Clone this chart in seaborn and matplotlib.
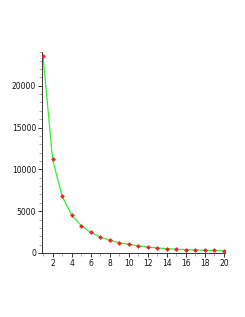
import numpy as np
import pandas as pd
import seaborn as sns
import matplotlib
matplotlib.use("Agg")
from matplotlib import pyplot as plt
from matplotlib.ticker import MultipleLocator

# values
x_values = list(range(1, 21))
y_values = [23500, 11200, 6790, 4550, 3270, 2470, 1920, 1520, 1240, 1040,
            840, 720, 600, 520, 440, 400, 360, 320, 300, 260]

df = pd.DataFrame({"x": x_values, "y": y_values})

sns.set_style("white")
plt.rcParams["font.family"] = ["DejaVu Sans"]

fig = plt.figure(figsize=(2.45, 3.17), dpi=100)
ax = fig.add_axes([0.170, 0.202, 0.748, 0.633])

# green line through the points, red point markers on top
sns.lineplot(data=df, x="x", y="y", ax=ax, color="#33ee33", linewidth=0.9)
sns.scatterplot(data=df, x="x", y="y", ax=ax, color="#ee2222", marker="D",
                s=6, linewidth=0, zorder=3)

ax.set_xlim(0.85, 20.1)
ax.set_ylim(0, 24000)
ax.set_xlabel("")
ax.set_ylabel("")

ax.xaxis.set_major_locator(MultipleLocator(2))
ax.xaxis.set_minor_locator(MultipleLocator(1))
ax.yaxis.set_major_locator(MultipleLocator(5000))
ax.yaxis.set_minor_locator(MultipleLocator(1000))

ax.tick_params(axis="both", which="major", direction="out", length=3,
               width=0.6, labelsize=5.5, colors="#111111", pad=1)
ax.tick_params(axis="both", which="minor", direction="out", length=2,
               width=0.5, colors="#888888")
ax.tick_params(left=True, bottom=True, which="both")

for side in ["top", "right"]:
    ax.spines[side].set_visible(False)
for side in ["left", "bottom"]:
    ax.spines[side].set_color("#333333")
    ax.spines[side].set_linewidth(0.7)

fig.savefig("out.png", dpi=100)
